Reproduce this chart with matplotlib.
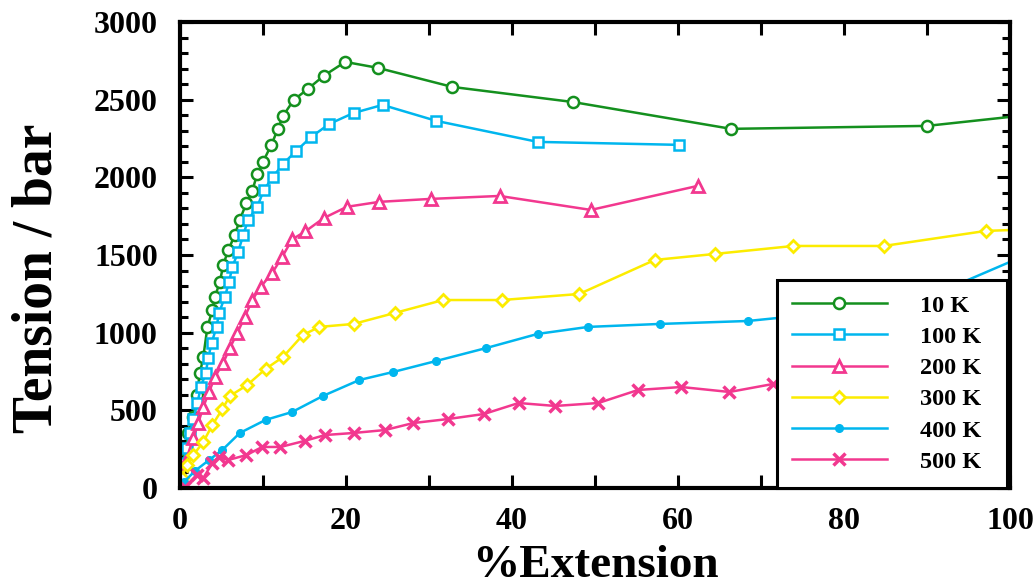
import matplotlib
matplotlib.use("Agg")
import matplotlib.pyplot as plt
from matplotlib.ticker import MultipleLocator

plt.rcParams['font.family'] = ['Liberation Serif', 'DejaVu Serif']
plt.rcParams['font.weight'] = 'bold'

GREEN = '#14901e'
BLUE = '#00b6ee'
PINK = '#f2388f'
YELLOW = '#fcec00'

x10 = [0, 0.7, 1.0, 1.6, 2.0, 2.4, 2.8, 3.3, 3.9, 4.2, 4.8, 5.2, 5.8, 6.6, 7.2, 8.0, 8.7, 9.3, 10.0, 11.0, 11.8, 12.4, 13.7, 15.4, 17.3, 19.9, 23.8, 32.8, 47.3, 66.4, 90.0, 108]
y10 = [50, 245, 354, 457, 600, 740, 843, 1037, 1146, 1230, 1326, 1436, 1530, 1629, 1726, 1835, 1912, 2022, 2100, 2209, 2312, 2395, 2498, 2569, 2653, 2743, 2705, 2582, 2485, 2312, 2331, 2435]

x100 = [0, 0.4, 0.8, 1.2, 1.6, 2.1, 2.5, 3.1, 3.4, 3.8, 4.4, 4.7, 5.4, 5.9, 6.3, 7.0, 7.6, 8.2, 9.3, 10.1, 11.2, 12.4, 14.0, 15.8, 18.0, 20.9, 24.4, 30.9, 43.1, 60.1]
y100 = [52, 161, 258, 354, 444, 547, 650, 740, 837, 934, 1037, 1127, 1230, 1326, 1423, 1520, 1626, 1726, 1810, 1919, 2003, 2086, 2170, 2260, 2344, 2414, 2466, 2363, 2228, 2209]

x200 = [0, 0.6, 1.6, 2.2, 2.8, 3.5, 4.2, 5.2, 6.0, 6.9, 7.8, 8.7, 9.7, 11.1, 12.3, 13.5, 15.1, 17.3, 20.1, 24.0, 30.2, 38.5, 49.5, 62.4]
y200 = [32, 161, 322, 419, 522, 618, 715, 805, 901, 998, 1101, 1210, 1294, 1384, 1487, 1600, 1652, 1737, 1810, 1842, 1861, 1880, 1790, 1945]

x300 = [0.2, 0.8, 1.6, 2.8, 3.9, 5.1, 6.0, 8.1, 10.3, 12.4, 14.8, 16.8, 20.9, 25.9, 31.7, 38.8, 48.1, 57.2, 64.5, 73.9, 84.8, 97.1, 104]
y300 = [64, 148, 212, 296, 406, 508, 592, 663, 766, 843, 985, 1037, 1056, 1127, 1210, 1210, 1249, 1468, 1507, 1558, 1558, 1655, 1668]

x400 = [0.5, 1.8, 3.5, 5.1, 7.2, 10.3, 13.5, 17.2, 21.6, 25.7, 30.9, 36.9, 43.1, 49.2, 57.8, 68.4, 88.0, 104]
y400 = [40, 110, 180, 245, 354, 438, 489, 592, 695, 747, 818, 901, 992, 1037, 1056, 1075, 1180, 1547]

x500 = [0.6, 2.0, 2.8, 3.9, 4.7, 5.8, 8.0, 9.9, 12.1, 15.0, 17.5, 20.9, 24.7, 28.1, 32.3, 36.6, 40.8, 45.2, 50.4, 55.2, 60.4, 66.2, 71.5, 85.0]
y500 = [6, 84, 64, 161, 200, 180, 212, 264, 264, 303, 341, 354, 373, 418, 444, 476, 547, 528, 547, 631, 650, 618, 670, 720]

labels = ['10 K', '100 K', '200 K', '300 K', '400 K', '500 K']

fig = plt.figure(figsize=(10.33, 5.83), dpi=100)
ax = fig.add_axes([0.1743, 0.163, 0.8034, 0.7993])

lw = 1.8
ax.plot(x10, y10, color=GREEN, lw=lw, marker='o', ms=8, mfc='white', mec=GREEN, mew=1.8, label=labels[0])
ax.plot(x100, y100, color=BLUE, lw=lw, marker='s', ms=7.5, mfc='white', mec=BLUE, mew=1.8, label=labels[1])
ax.plot(x200, y200, color=PINK, lw=lw, marker='^', ms=8.5, mfc='white', mec=PINK, mew=2.0, label=labels[2])
ax.plot(x300, y300, color=YELLOW, lw=lw, marker='D', ms=6, mfc='white', mec=YELLOW, mew=2.0, label=labels[3])
ax.plot(x400, y400, color=BLUE, lw=lw, marker='o', ms=5.5, mfc=BLUE, mec=BLUE, label=labels[4])
ax.plot(x500, y500, color=PINK, lw=lw, marker='x', ms=9, mew=2.5, label=labels[5])

ax.set_xlim(0, 100)
ax.set_ylim(0, 3000)
ax.xaxis.set_major_locator(MultipleLocator(20))
ax.xaxis.set_minor_locator(MultipleLocator(10))
ax.yaxis.set_major_locator(MultipleLocator(500))
ax.yaxis.set_minor_locator(MultipleLocator(100))

for s in ax.spines.values():
    s.set_linewidth(3)
ax.tick_params(which='major', direction='in', length=9.5, width=2.2, top=True, right=True, labelsize=23)
ax.tick_params(which='minor', direction='in', length=6, width=2.2, top=True, right=True)
ax.tick_params(axis='x', which='minor', length=9.5)
ax.tick_params(axis='x', which='major', pad=14)
ax.tick_params(axis='y', which='major', pad=16)
for t in ax.get_xticklabels() + ax.get_yticklabels():
    t.set_fontweight('bold')

ax.set_xlabel('%Extension', fontsize=34, fontweight='bold', labelpad=6)
ax.set_ylabel('Tension / bar', fontsize=40, fontweight='bold', labelpad=22, y=0.45)

leg = ax.legend(loc='lower left', bbox_to_anchor=(0.7193, 0.0, 0.2771, 0.45), mode='expand',
                borderaxespad=0, fancybox=False, edgecolor='black', framealpha=1,
                handlelength=3.9, handletextpad=1.36, labelspacing=0.38,
                borderpad=0.62, prop={'weight': 'bold', 'size': 17.5})
leg.get_frame().set_linewidth(2.2)

fig.savefig('out.png', dpi=100)
